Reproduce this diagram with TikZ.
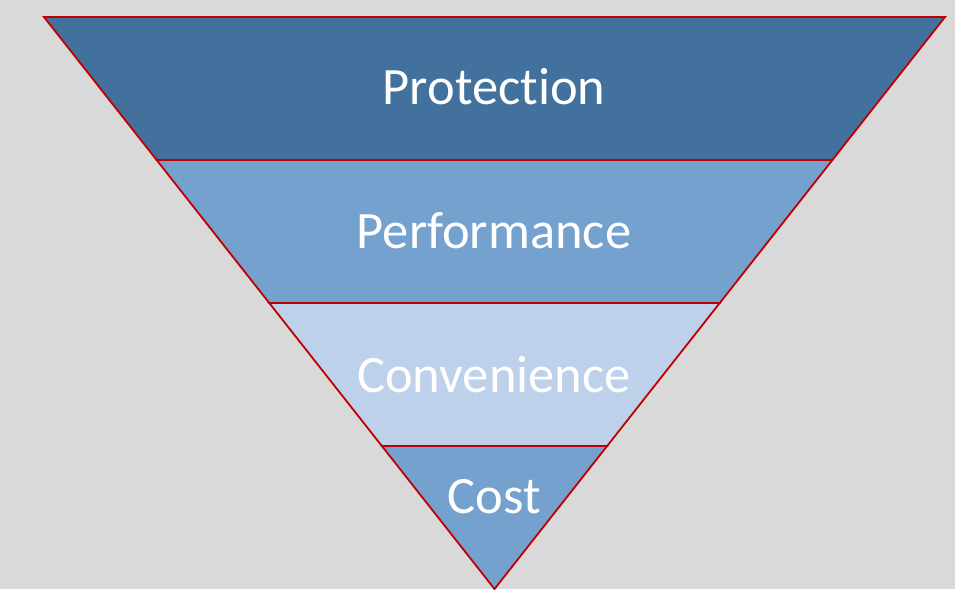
\documentclass[tikz,border=0pt]{standalone}
\usepackage{fontspec}
\setmainfont{Carlito}[Ligatures=NoCommon]
\usepackage{tikz}
\usetikzlibrary{calc}

\definecolor{backgray}{HTML}{D9D9D9}
\definecolor{edgered}{HTML}{C00000}
\definecolor{darkband}{HTML}{41719C}
\definecolor{midband}{HTML}{75A1CE}
\definecolor{lightband}{HTML}{BDD1EA}

\begin{document}
\begin{tikzpicture}[
      x=1pt, y=-1pt,
      band/.style={draw=edgered, line width=1.8pt, line join=miter},
      label/.style={anchor=base, text=white, inner sep=0pt,
        font=\fontsize{52.5}{62}\selectfont}
    ]

    % background
    \fill[backgray] (0,0) rectangle (955,589);

    % corners of the funnel
    \coordinate (L0) at (44,17);
    \coordinate (R0) at (945,17);
    \coordinate (tip) at (494.5,589);
    \coordinate (L1) at ($(L0)!0.25!(tip)$);
    \coordinate (R1) at ($(R0)!0.25!(tip)$);
    \coordinate (L2) at ($(L0)!0.5!(tip)$);
    \coordinate (R2) at ($(R0)!0.5!(tip)$);
    \coordinate (L3) at ($(L0)!0.75!(tip)$);
    \coordinate (R3) at ($(R0)!0.75!(tip)$);

    % bands, top to bottom
    \draw[band, fill=darkband]  (L0) -- (R0) -- (R1) -- (L1) -- cycle;
    \draw[band, fill=midband]   (L1) -- (R1) -- (R2) -- (L2) -- cycle;
    \draw[band, fill=lightband] (L2) -- (R2) -- (R3) -- (L3) -- cycle;
    \draw[band, fill=midband]   (L3) -- (R3) -- (tip) -- cycle;

    \node[label] (protection)  at (494,104) {Protection};
    \node[label] (performance) at (494,248) {Performance};
    \node[label] (convenience) at (494,392) {Convenience};
    \node[label] (cost)        at (494,513) {Cost};
\end{tikzpicture}
\end{document}
